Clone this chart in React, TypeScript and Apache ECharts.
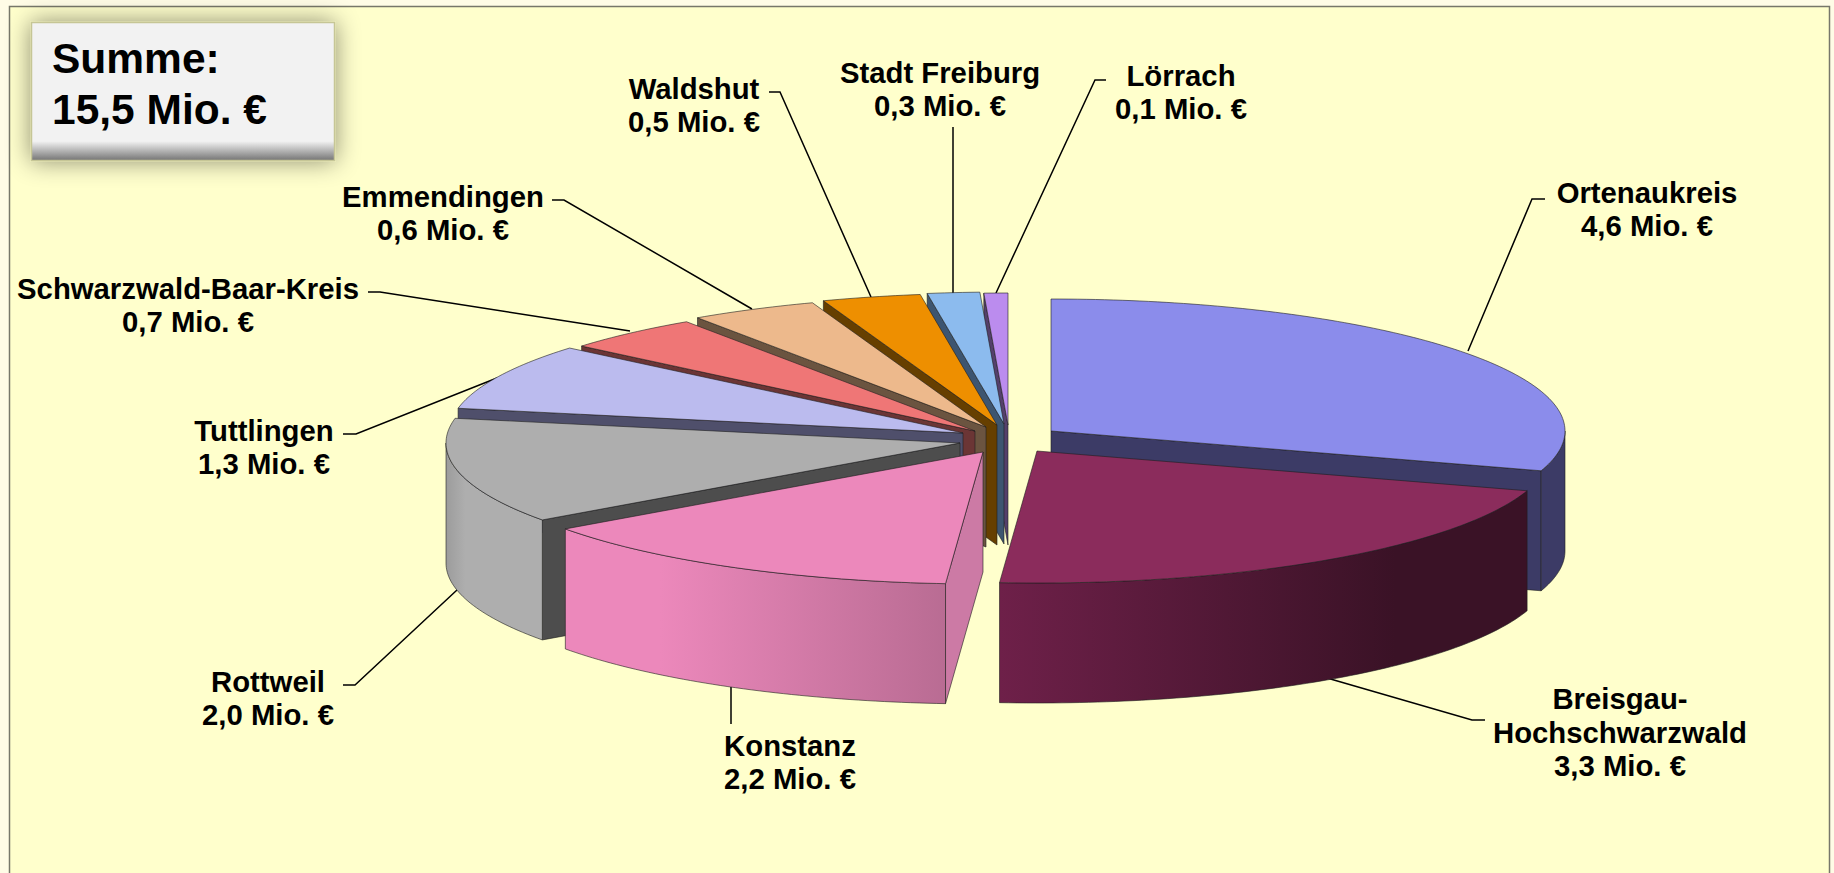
import React, { useEffect, useRef } from "react";
import * as echarts from "echarts";

// ---- data ----
const names = ["Ortenaukreis", "Breisgau-\nHochschwarzwald", "Konstanz", "Rottweil", "Tuttlingen", "Schwarzwald-Baar-Kreis", "Emmendingen", "Waldshut", "Stadt Freiburg", "Lörrach"];
const values = [4.63, 3.3, 2.16, 2.0, 1.26, 0.68, 0.62, 0.48, 0.254, 0.116];
const totalLabel = "Summe:\n15,5 Mio. €";

// ---- styles ----
const topColors = ["#8B8CEB", "#8B2C5C", "#EC88BB", "#AEAEAE", "#BBBBEE", "#EF7676", "#EDB98C", "#EE8F00", "#8CBBEE", "#BB8CEE"];
const cutColors = ["#3C3B66", "#3A1226", "#CC7AA5", "#4D4D4D", "#4F4F6B", "#6B3535", "#6B5440", "#663F00", "#3D5570", "#54406B"];
const rimStops: string[][] = [
  ["#3C3B66", "#3C3B66"],
  ["#6E2049", "#3A1226"],
  ["#EC88BB", "#B96C93"],
  ["#9C9C9C", "#AEAEAE"],
  ["#4F4F6B", "#4F4F6B"],
  ["#6B3535", "#6B3535"],
  ["#6B5440", "#6B5440"],
  ["#663F00", "#663F00"],
  ["#3D5570", "#3D5570"],
  ["#54406B", "#54406B"],
];

// ---- layout: the exploded centre of each slice and the shared pie shape ----
const sliceCx = [1051, 1037, 983, 960, 963, 975, 986, 997, 1004, 1008];
const sliceCy = [431, 451, 452, 443, 433, 431, 427, 425, 424, 425];
const RX = 514;
const RY = 132;
const DEPTH = 120;
const paintOrder = [9, 8, 7, 6, 5, 4, 0, 3, 1, 2];

const labelX = [1647, 1620, 790, 268, 264, 188, 443, 694, 940, 1181];
const labelY = [209, 732, 762, 698, 447, 305, 213, 105, 89, 92];
const leaders: number[][][] = [
  [[1468, 351], [1532, 199], [1545, 199]],
  [[1327, 678], [1472, 720], [1485, 720]],
  [[731, 687], [731, 724]],
  [[457, 590], [355, 685], [343, 685]],
  [[497, 378], [356, 434], [343, 434]],
  [[630, 331], [380, 292], [368, 292]],
  [[752, 309], [564, 200], [552, 200]],
  [[871, 297], [780, 92], [769, 92]],
  [[953, 294], [953, 127]],
  [[996, 293], [1095, 80], [1106, 80]],
];

const sum = values.reduce((a, b) => a + b, 0);
const deg = Math.PI / 180;
const starts: number[] = [];
const ends: number[] = [];
values.reduce((acc, v, i) => {
  starts[i] = acc;
  ends[i] = acc + (v / sum) * 360;
  return ends[i];
}, 0);

const valueText = (v: number) => v.toFixed(1).replace(".", ",") + " Mio. €";

function pointAt(i: number, theta: number, down = 0) {
  return [sliceCx[i] + Math.sin(theta * deg) * RX, sliceCy[i] - Math.cos(theta * deg) * RY + down];
}

function arc(i: number, a: number, b: number, down = 0) {
  const out: number[][] = [];
  const n = Math.max(2, Math.ceil(Math.abs(b - a)));
  for (let k = 0; k <= n; k++) out.push(pointAt(i, a + ((b - a) * k) / n, down));
  return out;
}

const OUTLINE = "rgba(30,30,30,0.75)";

function renderSlice(_params: any, api: any) {
  const i = api.value(1);
  const s = starts[i];
  const e = ends[i];
  const apex = [sliceCx[i], sliceCy[i]];
  const apexLow = [apex[0], apex[1] + DEPTH];
  const children: any[] = [];
  const poly = (points: number[][], fill: any, stroke = OUTLINE) =>
    children.push({
      type: "polygon",
      z2: children.length,
      shape: { points },
      style: { fill, stroke, lineWidth: 0.8, lineJoin: "round" },
    });
  const cut = (theta: number) => {
    const p = pointAt(i, theta);
    const q = pointAt(i, theta, DEPTH);
    poly([apex, p, q, apexLow], cutColors[i]);
  };
  if (Math.sin(s * deg) < -1e-6) cut(s);
  if (Math.sin(e * deg) > 1e-6) cut(e);
  const a = Math.max(s, 90);
  const b = Math.min(e, 270);
  if (b > a) {
    const fill = new echarts.graphic.LinearGradient(0, 0, 1, 0, [
      { offset: 0, color: rimStops[i][0] },
      { offset: i === 1 ? 0.75 : i === 2 ? 0.25 : 0.2, color: i === 1 ? rimStops[i][1] : i === 2 ? rimStops[i][0] : rimStops[i][1] },
      { offset: 1, color: rimStops[i][1] },
    ]);
    poly([...arc(i, a, b), ...arc(i, b, a, DEPTH)], fill);
  }
  poly([apex, ...arc(i, s, e)], topColors[i]);
  return { type: "group", children };
}

export default function App() {
  const ref = useRef<HTMLDivElement>(null);
  useEffect(() => {
    document.body.style.margin = "0";
    document.body.style.overflow = "hidden";
    const chart = echarts.init(ref.current!, undefined, { renderer: "svg" });
    const font = "'Liberation Sans', Arial, sans-serif";
    const graphics: any[] = [
      {
        type: "rect",
        z: 0,
        silent: true,
        shape: { x: 9.5, y: 6.5, width: 1820, height: 900 },
        style: { fill: "#FFFFCC", stroke: "#77776A", lineWidth: 1.5 },
      },
      {
        type: "rect",
        z: 1,
        silent: true,
        shape: { x: 31.5, y: 22.5, width: 303, height: 138 },
        style: {
          fill: new echarts.graphic.LinearGradient(0, 0, 0, 1, [
            { offset: 0, color: "#F2F2F2" },
            { offset: 0.86, color: "#F2F2F2" },
            { offset: 1, color: "#747474" },
          ]),
          stroke: "#C6C696",
          lineWidth: 1.5,
          shadowBlur: 24,
          shadowColor: "rgba(0,0,0,0.45)",
        },
      },
      {
        type: "text",
        z: 20,
        silent: true,
        x: 52,
        y: 33,
        style: { text: totalLabel, font: `bold 42.5px ${font}`, lineHeight: 51, fill: "#000", align: "left", verticalAlign: "top" },
      },
    ];
    names.forEach((name, i) => {
      graphics.push({
        type: "polyline",
        z: 5,
        silent: true,
        shape: { points: leaders[i] },
        style: { stroke: "#000", lineWidth: 1.5, fill: "none" },
      });
      graphics.push({
        type: "text",
        z: 20,
        silent: true,
        x: labelX[i],
        y: labelY[i],
        style: {
          text: `${name}\n${valueText(values[i])}`,
          font: `bold 29.3px ${font}`,
          lineHeight: 33.5,
          fill: "#000",
          align: "center",
          verticalAlign: "middle",
        },
      });
    });
    chart.setOption({
      animation: false,
      backgroundColor: "#FFFCE6",
      graphic: graphics,
      series: [
        {
          type: "custom",
          coordinateSystem: "none",
          silent: true,
          z: 10,
          renderItem: renderSlice,
          data: paintOrder.map((i) => [values[i], i]),
        },
      ],
    });
    return () => chart.dispose();
  }, []);
  return <div ref={ref} style={{ width: 1834, height: 873 }} />;
}
